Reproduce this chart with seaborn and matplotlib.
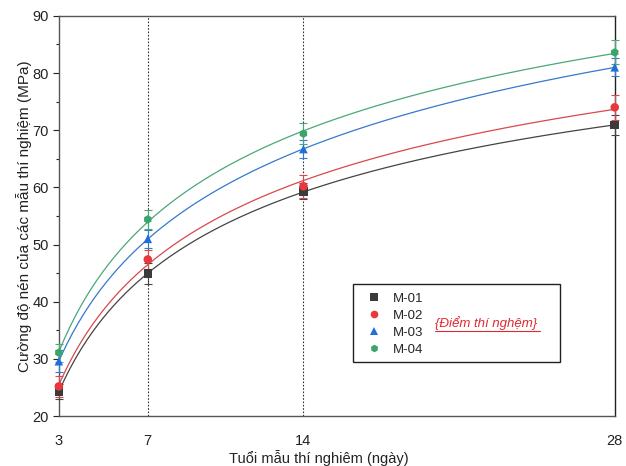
import numpy as np
import pandas as pd
import matplotlib
matplotlib.use("Agg")
import matplotlib.pyplot as plt
import seaborn as sns
from matplotlib.lines import Line2D
from matplotlib.patches import Rectangle

# ---- data ----
ages = [3, 7, 14, 28]
series = ["M-01", "M-02", "M-03", "M-04"]
m01 = [24.3, 44.9, 59.3, 70.9]
m02 = [25.2, 47.4, 60.2, 74.0]
m03 = [29.6, 51.0, 66.7, 81.0]
m04 = [31.1, 54.4, 69.4, 83.6]
err01 = [1.3, 1.8, 1.4, 1.8]
err02 = [1.9, 1.6, 2.0, 2.2]
err03 = [1.9, 1.6, 1.6, 1.6]
err04 = [1.6, 1.6, 1.8, 2.1]
xtick_labels = ["3", "7", "14", "28"]
note_text = "{Điểm thí nghệm}"

values = [m01, m02, m03, m04]
errors = [err01, err02, err03, err04]
marker_colors = ["#3b3b3b", "#e8383d", "#1e6fdc", "#3aa56a"]
line_colors = ["#444444", "#d9484c", "#3579cc", "#4aa878"]
markers = ["s", "o", "^", "h"]

rows = []
for s, v, e in zip(series, values, errors):
    for a, y, er in zip(ages, v, e):
        rows.append({"age": a, "strength": y, "err": er, "series": s})
df = pd.DataFrame(rows)

# fitted trend curves (quadratic in ln(age)) evaluated by the fit, not typed
fit_rows = []
tgrid = np.linspace(min(ages), max(ages), 200)
for s, v in zip(series, values):
    coef = np.polyfit(np.log(ages), v, 2)
    for t, y in zip(tgrid, np.polyval(coef, np.log(tgrid))):
        fit_rows.append({"age": t, "strength": y, "series": s})
fit_df = pd.DataFrame(fit_rows)

sns.set_theme(style="ticks")
plt.rcParams["font.family"] = ["Liberation Sans", "DejaVu Sans"]

fig = plt.figure(figsize=(6.26, 4.66), dpi=100)
ax = fig.add_axes([0.094, 0.107, 0.888, 0.859])

for x in [7, 14]:
    ax.axvline(x, color="#333333", lw=0.8, ls=(0, (1.5, 1.5)), zorder=1)

for s, mc, lc, mk in zip(series, marker_colors, line_colors, markers):
    d = df[df.series == s]
    sns.lineplot(data=fit_df[fit_df.series == s], x="age", y="strength",
                 color=lc, lw=0.9, ax=ax, zorder=2, legend=False)
    ax.errorbar(d["age"], d["strength"], yerr=d["err"], fmt="none", ecolor=lc,
                elinewidth=0.8, capsize=3, capthick=0.8, zorder=3, clip_on=False)
    sns.scatterplot(data=d, x="age", y="strength", marker=mk, color=mc, s=38,
                    edgecolor="none", ax=ax, zorder=4, clip_on=False, legend=False)

ax.set_xlim(3, 28)
ax.set_ylim(20, 90)
ax.set_xticks(ages)
ax.set_xticklabels(xtick_labels)
ax.set_yticks(np.arange(20, 91, 10))
ax.set_yticks(np.arange(25, 90, 10), minor=True)
ax.tick_params(axis="x", length=0, pad=13, labelsize=10.5, colors="#222222")
ax.tick_params(axis="y", which="major", direction="out", length=4, width=0.8,
               labelsize=10.5, colors="#222222", pad=3)
ax.tick_params(axis="y", which="minor", direction="out", length=2.5, width=0.8,
               colors="#222222")
for sp in ax.spines.values():
    sp.set_visible(True)
    sp.set_linewidth(1.0)
    sp.set_color("#555555")
ax.spines["right"].set_color("#222222")

ax.set_xlabel("Tuổi mẫu thí nghiêm (ngày)", fontsize=10.5, color="#222222", labelpad=1)
ax.xaxis.label.set_x(0.468)
ax.set_ylabel("Cường độ nén của các mẫu thí nghiệm (MPa)", fontsize=11,
              color="#222222", labelpad=0.5)

# legend frame
frame = Rectangle((0.529, 0.135), 0.372, 0.195, transform=ax.transAxes,
                  facecolor="white", edgecolor="#222222", lw=1.0, zorder=5)
ax.add_patch(frame)

handles = [Line2D([], [], ls="none", marker=mk, color=mc, markersize=5.5, markeredgewidth=0)
           for mk, mc in zip(markers, marker_colors)]
leg = ax.legend(handles, series, loc="upper left", bbox_to_anchor=(0.534, 0.328),
                frameon=False, fontsize=9.5, handlelength=1.5, handletextpad=0.75,
                labelspacing=0.35, borderpad=0.6, borderaxespad=0)
leg.set_zorder(6)

ax.text(0.676, 0.2325, note_text, transform=ax.transAxes, color="#e0282e",
        fontsize=9.5, fontstyle="italic", ha="left", va="center", zorder=7)
ax.add_line(Line2D([0.676, 0.865], [0.2125, 0.2125], transform=ax.transAxes,
                   color="#e0282e", lw=0.8, zorder=7))

fig.savefig("out.png", dpi=100, facecolor="white")
